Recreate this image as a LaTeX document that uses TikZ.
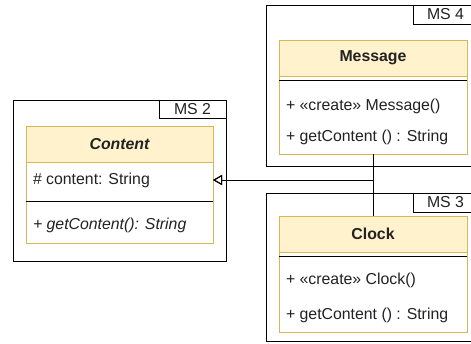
\documentclass[tikz,border=0pt]{standalone}
\usepackage{fontspec}
\setmainfont{Liberation Sans}
\usetikzlibrary{arrows.meta}
\definecolor{headfill}{HTML}{FFF2CC}
\definecolor{headline}{HTML}{D6B656}
\definecolor{txt}{HTML}{222222}
\newcommand{\fsz}{\fontsize{15.9}{18}\selectfont}
\begin{document}
\begin{tikzpicture}[x=1bp,y=-1bp,
  every node/.style={inner sep=0pt, outer sep=0pt, text=txt, font=\fsz},
  pkg/.style={draw=black, line width=1bp, fill=white, anchor=north west},
  pkgtab/.style={draw=black, line width=1bp, fill=white, anchor=north east},
  chead/.style={draw=headline, line width=1bp, fill=headfill, anchor=north west, minimum width=188bp, minimum height=36bp, font=\fsz\bfseries},
  cbody/.style={draw=headline, line width=1bp, fill=white, anchor=north west, minimum width=188bp},
  member/.style={anchor=west},
  sep/.style={draw=black, line width=1bp},
  gen/.style={draw=black, line width=1bp, -{Triangle[open, length=9bp, width=10bp]}}
]
\clip (0,0) rectangle (471,343);
\useasboundingbox (0,0) rectangle (471,343);

% ---- Package MS 2 ----
\node[pkg, minimum width=213bp, minimum height=161bp] (p2) at (13,100) {};
\node[pkgtab, minimum width=67bp, minimum height=18bp] (t2) at (p2.north east) {MS 2};
\node[chead, minimum width=187bp, font=\fsz\bfseries\itshape] (conh) at (26,126) {Content};
\node[cbody, minimum width=187bp, minimum height=81bp] (conb) at (conh.south west) {};
\node[member] (cattr) at (33,180) {\# content: String};
\coordinate (cs) at (0,201);
\draw[sep] (conb.west |- cs) -- (conb.east |- cs);
\node[member, font=\fsz\itshape] (cmeth) at (33,225) {+ getContent(): String};

% ---- Package MS 4 ----
\node[pkg, minimum width=212bp, minimum height=161bp] (p4) at (266,5) {};
\node[pkgtab, minimum width=65bp, minimum height=19bp] (t4) at (p4.north east) {MS 4};
\node[chead] (msgh) at (279,40) {Message};
\node[cbody, minimum height=78bp] (msgb) at (msgh.south west) {};
\coordinate (ms) at (0,80);
\draw[sep] (msgb.west |- ms) -- (msgb.east |- ms);
\node[member] (m1) at (286,106) {+ «create» Message()};
\node[member] (m2) at (286,137) {+ getContent () : String};

% ---- Package MS 3 ----
\node[pkg, minimum width=212bp, minimum height=148bp] (p3) at (266,193) {};
\node[pkgtab, minimum width=65bp, minimum height=19bp] (t3) at (p3.north east) {MS 3};
\node[chead] (clkh) at (279,216) {Clock};
\node[cbody, minimum height=80bp] (clkb) at (clkh.south west) {};
\coordinate (ks) at (0,256);
\draw[sep] (clkb.west |- ks) -- (clkb.east |- ks);
\node[member] (k1) at (286,280) {+ «create» Clock()};
\node[member] (k2) at (286,315) {+ getContent () : String};

% ---- Generalizations ----
\coordinate (target) at (conb.east |- cattr);
\coordinate (joint) at (373,180);
\draw[gen] (msgb.south -| joint) -- (joint) -- (target);
\draw[gen] (clkh.north -| joint) -- (joint) -- (target);
\end{tikzpicture}
\end{document}
